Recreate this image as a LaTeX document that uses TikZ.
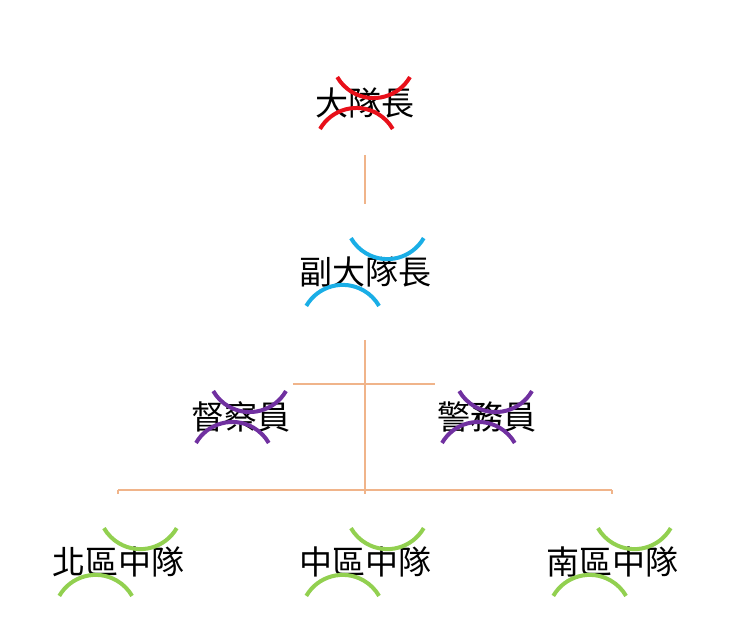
\documentclass[tikz,border=0pt]{standalone}
\usepackage{fontspec}
\newfontfamily\cjk{Noto Sans CJK TC}
\definecolor{linktan}{HTML}{F0B48A}
\definecolor{ringred}{HTML}{E8101A}
\definecolor{ringblue}{HTML}{1AAEE6}
\definecolor{ringpurple}{HTML}{7030A0}
\definecolor{ringgreen}{HTML}{92D050}
\tikzset{
  post/.style={circle, minimum size=84pt, inner sep=0pt, font=\cjk\fontsize{33}{36}\selectfont},
  link/.style={linktan, line width=2.5pt},
  ring/.style={line width=4pt}
}
\begin{document}
\begin{tikzpicture}[x=1pt,y=-1pt]
  \useasboundingbox (0,0) rectangle (733,635);

  \node[post] (chief) at (365,103) {大隊長};
  \node[post] (vice) at (365,272) {副大隊長};
  \node[post] (duc) at (241,417) {督察員};
  \node[post] (jing) at (487,417) {警務員};
  \node[post] (north) at (118,562) {北區中隊};
  \node[post] (mid) at (365,562) {中區中隊};
  \node[post] (south) at (612,562) {南區中隊};

  \coordinate (staff) at (365,384);
  \coordinate (bus) at (365,490);

  % connectors
  \draw[link] (chief.south) -- (vice.north);
  \draw[link] (vice.south) -- (bus);
  \draw[link] (duc.east |- staff) -- (jing.west |- staff);
  \draw[link] (north.north |- bus) -- (south.north |- bus);
  \foreach \n in {north,mid,south}
    \draw[link] (\n.north |- bus) -- (\n.north);

  % rings
  \foreach \n/\c in {chief/ringred, vice/ringblue, duc/ringpurple, jing/ringpurple,
                     north/ringgreen, mid/ringgreen, south/ringgreen} {
    \draw[ring, \c] (\n.30) arc[start angle=30, end angle=150, radius=42];
    \draw[ring, \c] (\n.210) arc[start angle=210, end angle=330, radius=42];
  }
\end{tikzpicture}
\end{document}
